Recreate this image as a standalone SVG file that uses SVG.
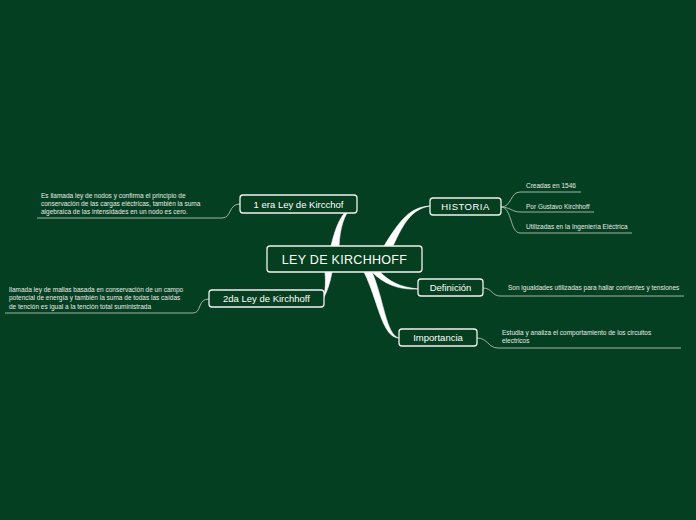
<svg xmlns="http://www.w3.org/2000/svg" width="696" height="520" viewBox="0 0 696 520">
<style>
.node rect{fill:#063f20;stroke:#f2f2f2;stroke-width:1.3}
.node text{font-family:"Liberation Sans",Arial,sans-serif;fill:#ffffff;text-anchor:middle}
.leaf{font-family:"Liberation Sans",Arial,sans-serif;font-size:6.5px;fill:#e8ece8}
.thin{fill:none;stroke:#9fb3a3;stroke-width:1}
.branch{fill:#ffffff;stroke:#ffffff;stroke-width:0.6}
</style>
<rect width="696" height="520" fill="#053f21"/>
<g id="connectors">
<path class="branch" d="M331,246 C336,225 342,212 352,207 C344,214 340,228 339,246 Z"/>
<path class="branch" d="M384,246 C400,220 410,207 430,206 C412,209 404,222 393,246 Z"/>
<path class="branch" d="M325,272 C326,285 325,293 323,299 C327,292 330,283 332,272 Z"/>
<path class="branch" d="M372,272 C385,285 400,290 418,289 C400,287 390,282 380,272 Z"/>
<path class="branch" d="M364,272 C378,300 382,338 399,338 C386,335 384,300 372,272 Z"/>
<path class="thin" d="M240,204 C228,204 232,218 222,218 L37,218"/>
<path class="thin" d="M209,299 C197,299 202,313 193,313 L5,313"/>
<path class="thin" d="M501,207 C512,207 510,192 520,192 L581,192"/>
<path class="thin" d="M501,207 C510,207 512,212 520,212 L594,212"/>
<path class="thin" d="M501,207 C512,207 510,233 520,233 L632,233"/>
<path class="thin" d="M483,288 C492,288 492,296 500,296 L684,296"/>
<path class="thin" d="M477,338 C488,338 488,348 498,348 L681,348"/>
</g>
<g id="center" class="node">
<rect x="267" y="246" width="155" height="26" rx="3"/>
<text x="344.5" y="264" font-size="12.5" letter-spacing="0.3">LEY DE KIRCHHOFF</text>
</g>
<g id="n1" class="node">
<rect x="240" y="195" width="117" height="18" rx="3"/>
<text x="298.5" y="207.5" font-size="9.5">1 era Ley de Kircchof</text>
</g>
<g id="n2" class="node">
<rect x="209" y="290" width="115" height="17" rx="3"/>
<text x="266.5" y="302" font-size="9.5">2da Ley de Kirchhoff</text>
</g>
<g id="historia" class="node">
<rect x="430" y="198" width="71" height="17" rx="3"/>
<text x="465.5" y="210" font-size="9.5" letter-spacing="0.5">HISTORIA</text>
</g>
<g id="definicion" class="node">
<rect x="418" y="279" width="65" height="17" rx="3"/>
<text x="450.5" y="291" font-size="9.5">Definición</text>
</g>
<g id="importancia" class="node">
<rect x="399" y="329" width="78" height="17" rx="3"/>
<text x="438" y="341" font-size="9.5">Importancia</text>
</g>
<g id="leaf1">
<text class="leaf" x="41" y="198">Es llamada ley de nodos y confirma el principio de</text>
<text class="leaf" x="41" y="206">conservación de las cargas eléctricas, también la suma</text>
<text class="leaf" x="41" y="214">algebraica de las intensidades en un nodo es cero.</text>
</g>
<g id="leaf2">
<text class="leaf" x="9" y="292">llamada ley de mallas basada en conservación de un campo</text>
<text class="leaf" x="9" y="300">potencial de energía y también la suma de todas las caídas</text>
<text class="leaf" x="9" y="309">de tención es igual a la tención total suministrada</text>
</g>
<g id="h1"><text class="leaf" x="526" y="188">Creadas en 1546</text></g>
<g id="h2"><text class="leaf" x="526" y="209">Por Gustavo Kirchhoff</text></g>
<g id="h3"><text class="leaf" x="526" y="229">Utilizadas en la Ingeniería Eléctrica</text></g>
<g id="d1"><text class="leaf" x="508" y="290">Son igualdades utilizadas para hallar corrientes y tensiones</text></g>
<g id="i1">
<text class="leaf" x="502" y="335">Estudia y analiza el comportamiento de los circuitos</text>
<text class="leaf" x="502" y="343">electricos</text>
</g>
</svg>
